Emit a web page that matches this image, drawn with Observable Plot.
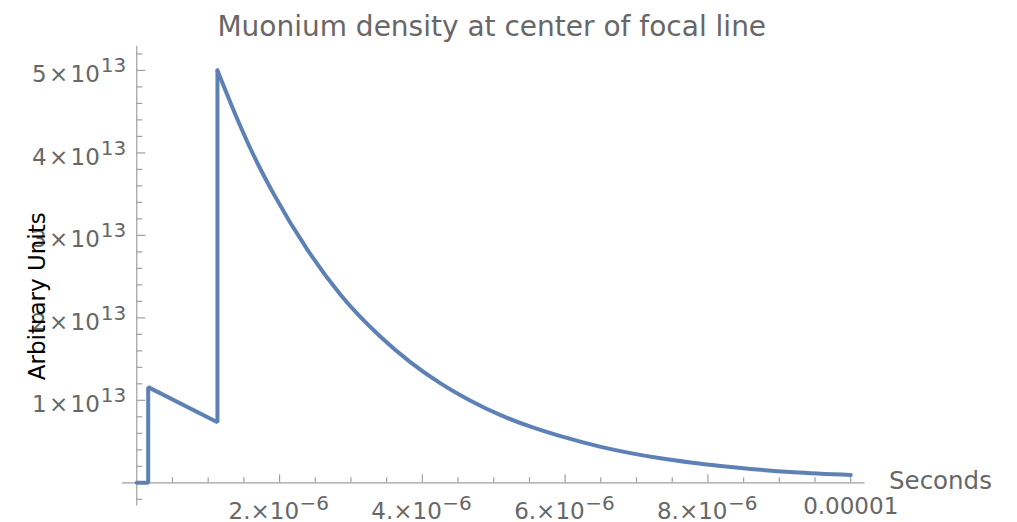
<!DOCTYPE html>
<html>
<head>
<meta charset="utf-8">
<script src="https://cdn.jsdelivr.net/npm/d3@7"></script>
<script src="https://cdn.jsdelivr.net/npm/@observablehq/plot@0.6"></script>
<style>
  html, body { margin: 0; padding: 0; background: #fff; }
  #chart { width: 1017px; height: 522px; }
</style>
</head>
<body>
<div id="chart"></div>
<script>
// ---- data (seconds, arbitrary units) ----
const stepTimes  = [0, 0.16e-6, 0.16e-6, 1.13e-6, 1.13e-6];
const stepValues = [0, 0, 1.16e13, 0.735e13, 5.0e13];

const decayTimes = [1.13e-6, 1.453e-6, 1.593e-6, 1.919e-6, 2.387e-6, 2.854e-6, 3.414e-6, 3.835e-6,
                    4.255e-6, 4.675e-6, 5.096e-6, 5.516e-6, 5.936e-6, 6.5e-6, 6.917e-6, 7.337e-6,
                    7.757e-6, 8.177e-6, 8.6e-6, 9.2e-6, 10.0e-6];
const decayValues = [5.0e13, 4.32e13, 4.05e13, 3.50e13, 2.83e13, 2.28e13, 1.77e13, 1.46e13,
                     1.205e13, 0.995e13, 0.82e13, 0.68e13, 0.565e13, 0.436e13, 0.36e13, 0.297e13,
                     0.246e13, 0.204e13, 0.168e13, 0.129e13, 0.096e13];

// ---- ticks & labels ----
const xTickValues = [2e-6, 4e-6, 6e-6, 8e-6];
const xTickBase   = ["2.×10", "4.×10", "6.×10", "8.×10"];
const xTickExp    = ["−6", "−6", "−6", "−6"];
const xLastTick   = [1e-5];
const xLastLabel  = ["0.00001"];
const xMajorTicks = [2e-6, 4e-6, 6e-6, 8e-6, 1e-5];
const xMinorTicks = [0.5e-6, 1e-6, 1.5e-6, 2.5e-6, 3e-6, 3.5e-6, 4.5e-6, 5e-6, 5.5e-6,
                     6.5e-6, 7e-6, 7.5e-6, 8.5e-6, 9e-6, 9.5e-6];
const yTickValues = [1e13, 2e13, 3e13, 4e13, 5e13];
const yTickBase   = ["1\u200A×\u200A10", "2\u200A×\u200A10", "3\u200A×\u200A10", "4\u200A×\u200A10", "5\u200A×\u200A10"];
const yTickExp    = ["13", "13", "13", "13", "13"];
const yMinorTicks = [-0.2e13, 0.2e13, 0.4e13, 0.6e13, 0.8e13, 1.2e13, 1.4e13, 1.6e13, 1.8e13,
                     2.2e13, 2.4e13, 2.6e13, 2.8e13, 3.2e13, 3.4e13, 3.6e13, 3.8e13,
                     4.2e13, 4.4e13, 4.6e13, 4.8e13, 5.2e13];

const title  = "Muonium density at center of focal line";
const xLabel = "Seconds";
const yLabel = "Arbitrary Units";

// ---- styles ----
const lineColor = "#5e81b5";
const axisColor = "#a0a0a0";
const labelColor = "#676767";
const font = "DejaVu Sans";

const stepIdx = d3.range(stepTimes.length);
const decayIdx = d3.range(decayTimes.length);

const chart = Plot.plot({
  width: 1017,
  height: 522,
  marginLeft: 122,
  marginRight: 152.5,
  marginTop: 46,
  marginBottom: 16.6,
  style: { fontFamily: font, background: "#fff", overflow: "visible" },
  x: { domain: [-0.2e-6, 10.2e-6], axis: null },
  y: { domain: [-0.28e13, 5.29e13], axis: null },
  marks: [
    // axes lines
    Plot.ruleY([0], { stroke: axisColor, strokeWidth: 1.2 }),
    Plot.ruleX([0], { stroke: axisColor, strokeWidth: 1.2 }),
    // x ticks (pointing up)
    Plot.ruleX(xMajorTicks, { x: d => d, y1: 0, y2: 0, insetTop: -8, stroke: axisColor, strokeWidth: 1.2 }),
    Plot.ruleX(xMinorTicks, { x: d => d, y1: 0, y2: 0, insetTop: -5, stroke: axisColor, strokeWidth: 1.2 }),
    // y ticks (pointing right)
    Plot.ruleY(yTickValues, { y: d => d, x1: 0, x2: 0, insetRight: -9, stroke: axisColor, strokeWidth: 1.2 }),
    Plot.ruleY(yMinorTicks, { y: d => d, x1: 0, x2: 0, insetRight: -6, stroke: axisColor, strokeWidth: 1.2 }),
    // x tick labels
    Plot.text(xTickValues, { x: d => d, y: 0, text: (d, i) => xTickBase[i], textAnchor: "end", lineAnchor: "bottom",
      dx: 19.5, dy: 36, fontSize: 23, fill: labelColor }),
    Plot.text(xTickValues, { x: d => d, y: 0, text: (d, i) => xTickExp[i], textAnchor: "start", lineAnchor: "bottom",
      dx: 20, dy: 27.5, fontSize: 20, fill: labelColor }),
    Plot.text(xLastTick, { x: d => d, y: 0, text: (d, i) => xLastLabel[i], textAnchor: "middle", lineAnchor: "bottom",
      dy: 31, fontSize: 23, fill: labelColor }),
    // y tick labels
    Plot.text(yTickValues, { x: 0, y: d => d, text: (d, i) => yTickBase[i], textAnchor: "end", lineAnchor: "bottom",
      dx: -37, dy: 11.7, fontSize: 23, fill: labelColor }),
    Plot.text(yTickValues, { x: 0, y: d => d, text: (d, i) => yTickExp[i], textAnchor: "start", lineAnchor: "bottom",
      dx: -36, dy: 2, fontSize: 20, fill: labelColor }),
    // axis labels
    Plot.text([xLabel], { x: 10.2e-6, y: 0, text: d => d, textAnchor: "start", lineAnchor: "bottom",
      dx: 24, dy: 5.7, fontSize: 24.5, fill: labelColor }),
    Plot.text([yLabel], { frameAnchor: "left", text: d => d, rotate: -90, textAnchor: "middle", lineAnchor: "middle",
      dx: -85, dy: 20, fontSize: 23, fill: "#000" }),
    // title
    Plot.text([title], { frameAnchor: "top", text: d => d, textAnchor: "middle", lineAnchor: "bottom",
      dx: -2, dy: -11, fontSize: 28, fill: labelColor }),
    // data
    Plot.line(stepIdx, { x: i => stepTimes[i], y: i => stepValues[i], stroke: lineColor, strokeWidth: 4,
      strokeLinejoin: "miter", curve: "linear" }),
    Plot.line(decayIdx, { x: i => decayTimes[i], y: i => decayValues[i], stroke: lineColor, strokeWidth: 4,
      strokeLinejoin: "miter", curve: "monotone-x" })
  ]
});

document.getElementById("chart").appendChild(chart);
</script>
</body>
</html>
